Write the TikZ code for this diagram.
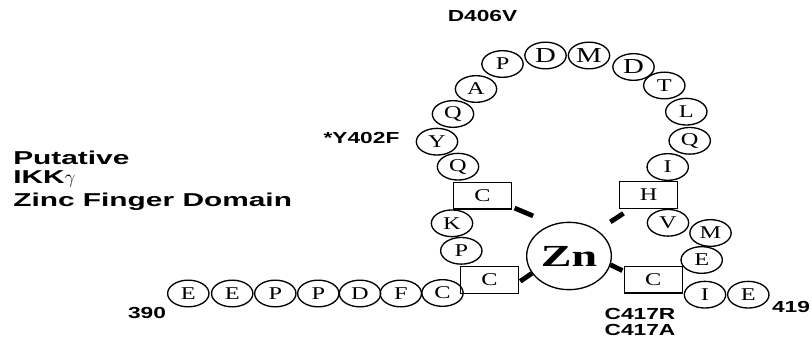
\documentclass[tikz,border=0pt]{standalone}
\usepackage{fontspec}
\usetikzlibrary{shapes.geometric}
\newfontfamily\aafont[FakeStretch=1.35]{Liberation Serif}
\newfontfamily\znfont[FakeStretch=1.5]{Liberation Serif Bold}
\newfontfamily\labelfont[FakeStretch=1.42]{Liberation Sans Bold}
\newfontfamily\titlefont[FakeStretch=1.6]{Liberation Sans Bold}

\begin{document}
\begin{tikzpicture}[x=0.75pt,y=-0.75pt]
\tikzset{
  aanode/.style={ellipse,draw=black,line width=1pt,minimum width=31pt,minimum height=20pt,inner sep=0pt,font=\aafont\fontsize{13.5}{14}\selectfont},
  bigaa/.style={aanode,font=\aafont\fontsize{16}{17}\selectfont},
  resbox/.style={rectangle,draw=black,line width=1pt,minimum width=43.5pt,minimum height=20pt,inner sep=0pt,font=\aafont\fontsize{13.5}{14}\selectfont},
  znnode/.style={ellipse,draw=black,line width=1pt,minimum width=63.5pt,minimum height=50.5pt,inner sep=0pt,font=\znfont\fontsize{23}{24}\selectfont},
  bond/.style={draw=black,line width=3.6pt},
  mutlabel/.style={anchor=base,inner sep=0pt,font=\labelfont\fontsize{12}{13}\selectfont},
  titleline/.style={anchor=base west,inner sep=0pt,font=\titlefont\fontsize{14}{15}\selectfont}
}
\useasboundingbox (0,0) rectangle (812,341);
% title
\node[titleline] (t_1) at (13,165) {Putative};
\node[titleline] (t_2) at (13,183.3) {IKK$\gamma$};
\node[titleline] (t_3) at (13,206.7) {Zinc Finger Domain};
% N-terminal tail
\node[aanode] (n_e_0) at (188.3,293.5) {E};
\node[aanode] (n_e_1) at (232.2,293.5) {E};
\node[aanode] (n_p_0) at (275.3,293.5) {P};
\node[aanode] (n_p_1) at (318.3,293.5) {P};
\node[aanode] (n_d_0) at (360,293.5) {D};
\node[aanode] (n_f_0) at (400.8,293.5) {F};
\node[aanode] (n_c_0) at (442.5,293) {C};
% left side of the loop
\node[resbox] (n_c_2) at (489.5,280) {C};
\node[aanode] (n_p_2) at (461.3,250.8) {P};
\node[aanode] (n_k_0) at (452,223.3) {K};
\node[resbox] (n_c_1) at (482.5,195.7) {C};
\node[aanode] (n_q_0) at (458,166.7) {Q};
\node[aanode] (n_y_0) at (437,141.7) {Y};
\node[aanode] (n_q_1) at (453,114) {Q};
\node[aanode] (n_a_0) at (476,89) {A};
\node[aanode] (n_p_3) at (502.5,64) {P};
% top of the loop
\node[bigaa] (n_d_1) at (545.5,55.5) {D};
\node[bigaa] (n_m_0) at (589,55.5) {M};
\node[bigaa] (n_d_2) at (633.5,67) {D};
% right side of the loop
\node[aanode] (n_t_0) at (664.3,85.5) {T};
\node[aanode] (n_l_0) at (686.3,111.7) {L};
\node[aanode] (n_q_2) at (689.7,140.8) {Q};
\node[aanode] (n_i_0) at (667.7,167) {I};
\node[resbox] (n_h_0) at (648.7,195) {H};
\node[aanode] (n_v_0) at (668,222.8) {V};
\node[aanode] (n_m_1) at (710.5,233) {M};
\node[aanode] (n_e_2) at (701.7,260) {E};
\node[resbox] (n_c_3) at (653.3,279.7) {C};
\node[aanode] (n_i_1) at (705,294.7) {I};
\node[aanode] (n_e_3) at (748.3,294.7) {E};
% zinc
\node[znnode] (n_zn) at (569,256) {Zn};
\draw[bond,shorten <=16pt,shorten >=2pt] (n_zn.117) -- (n_c_1.339);
\draw[bond,shorten <=11.5pt,shorten >=6pt] (n_zn.42) -- (n_h_0.217);
\draw[bond,shorten >=1pt] (n_zn.205) -- (n_c_2.356);
\draw[bond,shorten >=1pt] (n_zn.348) -- (n_c_3.164);
% labels
\node[mutlabel] (l_d406v) at (482.5,21.7) {D406V};
\node[mutlabel] (l_y402f) at (361.5,143.3) {*Y402F};
\node[mutlabel] (l_390) at (147,318.3) {390};
\node[mutlabel] (l_419) at (791,313) {419};
\node[mutlabel] (l_c417r) at (640,320) {C417R};
\node[mutlabel] (l_c417a) at (640,335) {C417A};
\end{tikzpicture}
\end{document}
